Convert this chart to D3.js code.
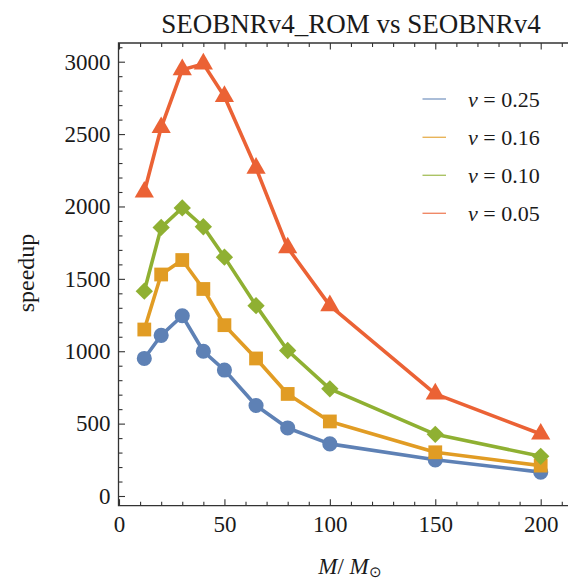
<!DOCTYPE html>
<html><head><meta charset="utf-8">
<script src="https://cdn.jsdelivr.net/npm/d3@7"></script>
<style>
body{margin:0;background:#fff;}
svg{display:block;}
text{font-family:"Liberation Serif","Times New Roman",serif;fill:#1a1a1a;}
</style></head><body>
<script>
const masses = [12, 20, 30, 40, 50, 65, 80, 100, 150, 200];
const nu025 = [950, 1110, 1245, 1000, 870, 625, 470, 360, 250, 165];
const nu016 = [1150, 1530, 1630, 1430, 1180, 950, 705, 515, 302, 210];
const nu010 = [1415, 1855, 1990, 1860, 1650, 1315, 1005, 740, 426, 274];
const nu005 = [2100, 2545, 2945, 2985, 2760, 2265, 1715, 1315, 705, 428];
const seriesLabels = ["0.25", "0.16", "0.10", "0.05"];
const seriesColors = ["#5E81B5", "#E19C24", "#8FB032", "#EB6235"];
const seriesShapes = ["circle", "square", "diamond", "triangle"];
const xMajorTicks = [0, 50, 100, 150, 200];
const yMajorTicks = [0, 500, 1000, 1500, 2000, 2500, 3000];
const titleText = "SEOBNRv4_ROM vs SEOBNRv4";

const W = 568, H = 582;
const svg = d3.select("body").append("svg").attr("width", W).attr("height", H);

const x = d3.scaleLinear().domain([0, 200]).range([119, 540.7]);
const y = d3.scaleLinear().domain([0, 3000]).range([496, 61.7]);
const frameL = 118.5, frameR = 580, frameT = 43, frameB = 505.7;

const xMinor = d3.range(0, 220, 10).filter(v => v % 50 !== 0 && x(v) < W + 5);
const yMinor = d3.range(0, 3200, 100).filter(v => v % 500 !== 0 && y(v) > frameT);

const axisColor = "#333";
function styleAxis(g) {
  g.select(".domain").remove();
  g.selectAll(".tick line").attr("stroke", axisColor).attr("stroke-width", 1.1);
  g.selectAll(".tick text").style("font-size", "23px").attr("fill", "#1a1a1a");
}

// bottom axis
svg.append("g").attr("transform", `translate(0,${frameB})`)
  .call(d3.axisBottom(x).tickValues(xMajorTicks).tickSize(-6.5).tickPadding(10).tickFormat(d3.format("d")))
  .call(styleAxis);
svg.append("g").attr("transform", `translate(0,${frameB})`)
  .call(d3.axisBottom(x).tickValues(xMinor).tickSize(-4).tickFormat(""))
  .call(styleAxis);
// top axis
svg.append("g").attr("transform", `translate(0,${frameT})`)
  .call(d3.axisTop(x).tickValues(xMajorTicks).tickSize(-6.5).tickFormat(""))
  .call(styleAxis);
svg.append("g").attr("transform", `translate(0,${frameT})`)
  .call(d3.axisTop(x).tickValues(xMinor).tickSize(-4).tickFormat(""))
  .call(styleAxis);
// left axis
svg.append("g").attr("transform", `translate(${frameL},0)`)
  .call(d3.axisLeft(y).tickValues(yMajorTicks).tickSize(-6.5).tickPadding(8).tickFormat(d3.format("d")))
  .call(styleAxis);
svg.append("g").attr("transform", `translate(${frameL},0)`)
  .call(d3.axisLeft(y).tickValues(yMinor).tickSize(-4).tickFormat(""))
  .call(styleAxis);

// frame
svg.append("path")
  .attr("d", `M${frameR},${frameT}H${frameL}V${frameB}H${frameR}`)
  .attr("fill", "none").attr("stroke", axisColor).attr("stroke-width", 1.3);

// series
const allSeries = [nu025, nu016, nu010, nu005];
const line = d3.line().x((d, i) => x(masses[i])).y(d => y(d));
const symType = {circle: d3.symbolCircle, square: d3.symbolSquare, diamond: d3.symbolSquare, triangle: d3.symbolTriangle};
const symSize = {circle: 180, square: 190, diamond: 150, triangle: 160};
const symRot = {circle: 0, square: 0, diamond: 45, triangle: 0};

allSeries.forEach((vals, si) => {
  const g = svg.append("g");
  g.append("path").datum(vals).attr("d", line)
    .attr("fill", "none").attr("stroke", seriesColors[si]).attr("stroke-width", 3.6)
    .attr("stroke-linejoin", "round");
  const shape = seriesShapes[si];
  g.selectAll("path.m").data(vals).enter().append("path").attr("class", "m")
    .attr("transform", (d, i) => `translate(${x(masses[i])},${y(d)}) rotate(${symRot[shape]})`)
    .attr("d", d3.symbol().type(symType[shape]).size(symSize[shape]))
    .attr("fill", seriesColors[si]);
});

// legend
const legY = [99, 137.3, 175.3, 213.3];
seriesLabels.forEach((lab, i) => {
  svg.append("line").attr("x1", 422.5).attr("x2", 446).attr("y1", legY[i]).attr("y2", legY[i])
    .attr("stroke", seriesColors[i]).attr("stroke-width", 1.4).attr("opacity", 0.75);
  const t = svg.append("text").attr("x", 468).attr("y", legY[i]).attr("dy", "0.35em").style("font-size", "22px");
  t.append("tspan").style("font-style", "italic").text("ν");
  t.append("tspan").text(" = " + lab);
});

// title
svg.append("text").attr("x", 351).attr("y", 33).attr("text-anchor", "middle")
  .style("font-size", "27px").text(titleText);

// y label
svg.append("text").attr("transform", "translate(34,273) rotate(-90)").attr("text-anchor", "middle")
  .style("font-size", "24px").text("speedup");

// x label
const xl = svg.append("text").attr("x", 350).attr("y", 574).attr("text-anchor", "middle").style("font-size", "23px");
xl.append("tspan").style("font-style", "italic").text("M");
xl.append("tspan").text("/ ");
xl.append("tspan").style("font-style", "italic").text("M");
xl.append("tspan").attr("dy", 3).style("font-size", "15px").text("⊙");
</script>
</body></html>
